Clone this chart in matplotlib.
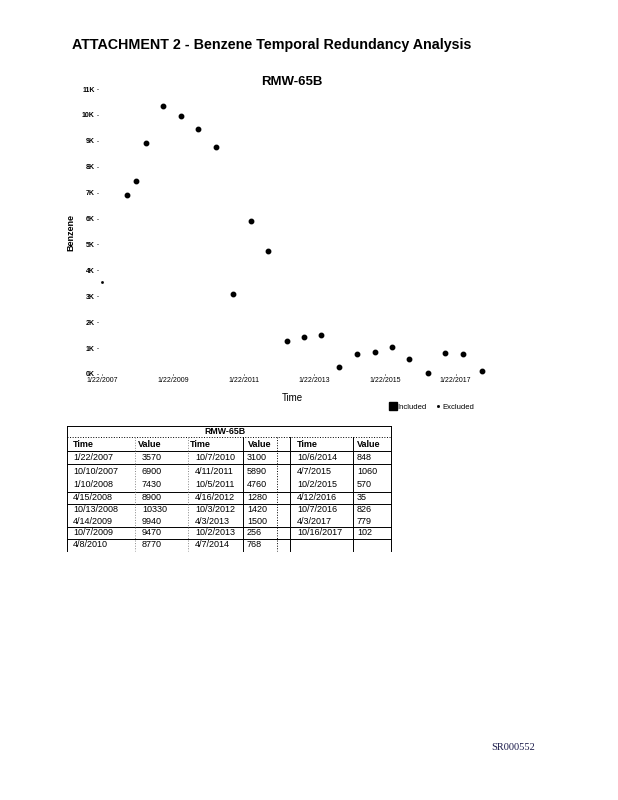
import pandas as pd
import matplotlib
matplotlib.use('Agg')
import matplotlib.pyplot as plt
from matplotlib.lines import Line2D

plt.rcParams['font.family'] = ['Liberation Sans', 'DejaVu Sans']

# sample data for well RMW-65B
dates = ['1/22/2007', '10/10/2007', '1/10/2008', '4/15/2008', '10/13/2008', '4/14/2009',
         '10/7/2009', '4/8/2010', '10/7/2010', '4/11/2011', '10/5/2011', '4/16/2012',
         '10/3/2012', '4/3/2013', '10/2/2013', '4/7/2014', '10/6/2014', '4/7/2015',
         '10/2/2015', '4/12/2016', '10/7/2016', '4/3/2017', '10/16/2017']
values = [3570, 6900, 7430, 8900, 10330, 9940, 9470, 8770, 3100, 5890, 4760, 1280,
          1420, 1500, 256, 768, 848, 1060, 570, 35, 826, 779, 102]
excluded = ['1/22/2007']

y_ticks = [0, 1000, 2000, 3000, 4000, 5000, 6000, 7000, 8000, 9000, 10000, 11000]
y_labels = ['0K', '1K', '2K', '3K', '4K', '5K', '6K', '7K', '8K', '9K', '10K', '11K']
x_ticks = ['1/22/2007', '1/22/2009', '1/22/2011', '1/22/2013', '1/22/2015', '1/22/2017']

df = pd.DataFrame({'Time': pd.to_datetime(dates, format='%m/%d/%Y'), 'Value': values})
df['Excluded'] = [d in excluded for d in dates]
inc = df[~df['Excluded']]
exc = df[df['Excluded']]


def fx(px):
    return px / 618


def fy(py):
    return 1 - py / 800


fig = plt.figure(figsize=(6.18, 8), dpi=100)
ax = fig.add_axes([fx(98), fy(374), (486 - 98) / 618, (374 - 89) / 800])

ax.plot(inc['Time'], inc['Value'], 'o', color='black', markersize=3.2, clip_on=False)
ax.plot(exc['Time'], exc['Value'], 's', color='black', markersize=0.9, clip_on=False)

ax.set_ylim(0, 11000)
ax.set_xlim(pd.Timestamp('2006-12-10'), pd.Timestamp('2017-12-01'))
ax.set_yticks(y_ticks)
ax.set_yticklabels(y_labels, fontsize=5, fontweight='bold')
ax.set_xticks(pd.to_datetime(x_ticks, format='%m/%d/%Y'))
ax.set_xticklabels(x_ticks, fontsize=5)
ax.tick_params(axis='both', length=0.8, width=0.6, pad=1.5)
for s in ax.spines.values():
    s.set_visible(False)

ax.set_title('RMW-65B', fontsize=9.5, fontweight='bold', pad=3)
ax.set_ylabel('Benzene', fontsize=6.5, fontweight='bold')
ax.yaxis.set_label_coords(-0.059, 0.495)
ax.set_xlabel('Time', fontsize=7)
ax.xaxis.set_label_coords(0.5, -0.067)

handles = [Line2D([], [], marker='s', linestyle='none', color='black', markersize=6),
           Line2D([], [], marker='s', linestyle='none', color='black', markersize=1)]
ax.legend(handles, ['Included', 'Excluded'], loc='center', ncol=2, frameon=False,
          bbox_to_anchor=(fx(432), fy(407)), bbox_transform=fig.transFigure,
          fontsize=5.5, handlelength=0.8, handletextpad=0.1, columnspacing=1.2)

fig.text(fx(72), fy(45), 'ATTACHMENT 2 - Benzene Temporal Redundancy Analysis',
         fontsize=10.3, fontweight='bold', va='center', ha='left')

# table below the chart
left, right = 67, 391
top, title_bot, head_bot = 426, 437, 451
row_edges = [451, 464, 478, 492, 503.5, 515, 527, 538.5, 551]
lines_after = [1, 3, 4, 6, 7]


def hline(y, x0=left, x1=right, ls='-', color='black'):
    fig.add_artist(Line2D([fx(x0), fx(x1)], [fy(y), fy(y)], lw=0.7, ls=ls, color=color))


def vline(x, y0, y1, ls='-', color='black'):
    fig.add_artist(Line2D([fx(x), fx(x)], [fy(y0), fy(y1)], lw=0.7, ls=ls, color=color))


hline(top)
hline(title_bot, ls=':')
hline(head_bot)
for k in lines_after:
    hline(row_edges[k])
vline(left, top, 551)
vline(right, top, 551)
vline(135, title_bot, 551, ls=':', color='#888888')
vline(188, title_bot, 551, ls=':', color='#888888')
vline(243, title_bot, 551)
vline(277, title_bot, 551, ls=':')
vline(290, title_bot, 551)
vline(353, title_bot, 551)

tfont = ['Liberation Sans Narrow', 'Liberation Sans', 'DejaVu Sans']
fig.text(fx(225), fy((top + title_bot) / 2), 'RMW-65B', fontsize=6.3, fontweight='bold',
         ha='center', va='center')
col_x = [(73, 142), (195, 247), (297, 357)]
head_x = [(73, 138), (190, 248), (297, 357)]
for (tx, vx) in head_x:
    fig.text(fx(tx), fy((title_bot + head_bot) / 2), 'Time', fontsize=6.5, fontweight='bold',
             ha='left', va='center', family=tfont)
    fig.text(fx(vx), fy((title_bot + head_bot) / 2), 'Value', fontsize=6.5, fontweight='bold',
             ha='left', va='center', family=tfont)
for i, (d, v) in enumerate(zip(dates, values)):
    c, r = divmod(i, 8)
    yc = (row_edges[r] + row_edges[r + 1]) / 2
    fig.text(fx(col_x[c][0]), fy(yc), d, fontsize=6.5, ha='left', va='center', family=tfont)
    fig.text(fx(col_x[c][1]), fy(yc), str(v), fontsize=6.5, ha='left', va='center', family=tfont)

fig.text(fx(513), fy(747), 'SR000552', fontsize=7.5, family=['Liberation Serif', 'DejaVu Serif'],
         color='#1a1a4a', ha='center', va='center')

fig.savefig('out.png', dpi=100)
